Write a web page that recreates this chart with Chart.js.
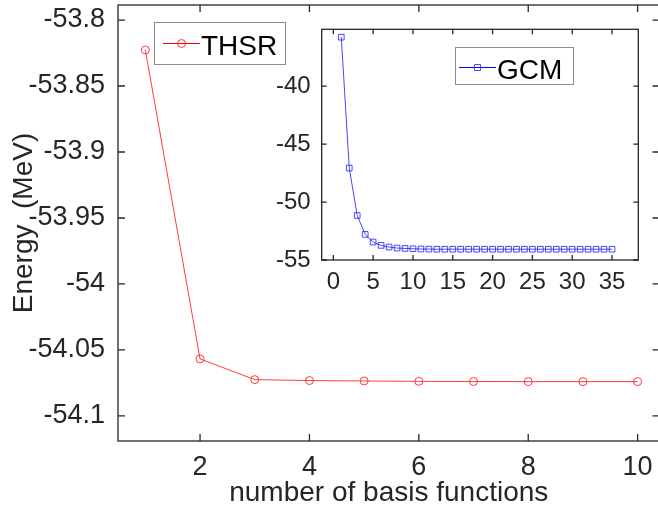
<!DOCTYPE html>
<html><head><meta charset="utf-8">
<script src="https://cdn.jsdelivr.net/npm/chart.js@4/dist/chart.umd.min.js"></script>
<style>
html,body{margin:0;padding:0;background:#fff;overflow:hidden;width:658px;height:509px;}
#main{position:absolute;left:0;top:0;}
#inset{position:absolute;left:270px;top:20px;}
</style></head><body>
<canvas id="main" width="662" height="509" style="width:662px;height:509px"></canvas>
<canvas id="inset" width="370" height="290" style="width:370px;height:290px"></canvas>
<script>
// ---- data ----
const thsrBasis = [1, 2, 3, 4, 5, 6, 7, 8, 9, 10];
const thsrEnergy = [-53.8227, -54.0568, -54.0725, -54.0732, -54.0735, -54.0738, -54.0739, -54.074, -54.074, -54.074];
const gcmBasis = [1, 2, 3, 4, 5, 6, 7, 8, 9, 10, 11, 12, 13, 14, 15, 16, 17, 18, 19, 20, 21, 22, 23, 24, 25, 26, 27, 28, 29, 30, 31, 32, 33, 34, 35];
const gcmEnergy = [-35.78, -47.07, -51.16, -52.79, -53.45, -53.74, -53.88, -53.97, -54.00, -54.03,
  -54.05, -54.06, -54.07, -54.07, -54.07, -54.07, -54.07, -54.07, -54.07, -54.07,
  -54.07, -54.07, -54.07, -54.07, -54.07, -54.07, -54.07, -54.07, -54.07, -54.07,
  -54.07, -54.07, -54.07, -54.07, -54.07];
const mainXTicks = [2, 4, 6, 8, 10];
const mainYTicks = [-54.1, -54.05, -54, -53.95, -53.9, -53.85, -53.8];
const insetXTicks = [0, 5, 10, 15, 20, 25, 30, 35];
const insetYTicks = [-55, -50, -45, -40];

// ---- styling ----
const FONT = '"Liberation Sans", Arial, Helvetica, sans-serif';
const AX = '#262626';

const framePlugin = {
  id: 'frame',
  afterDraw(chart, args, o) {
    const {ctx, chartArea: a, scales: {x, y}} = chart;
    ctx.save();
    ctx.strokeStyle = AX;
    ctx.lineWidth = o.lineWidth;
    ctx.beginPath();
    for (const t of x.ticks) {
      const p = x.getPixelForValue(t.value);
      ctx.moveTo(p, a.bottom); ctx.lineTo(p, a.bottom - o.tick);
      ctx.moveTo(p, a.top); ctx.lineTo(p, a.top + o.tick);
    }
    for (const t of y.ticks) {
      const p = y.getPixelForValue(t.value);
      ctx.moveTo(a.left, p); ctx.lineTo(a.left + o.tick, p);
      ctx.moveTo(a.right, p); ctx.lineTo(a.right - o.tick, p);
    }
    ctx.stroke();
    ctx.strokeRect(a.left, a.top, a.right - a.left, a.bottom - a.top);

    // legend
    const L = o.legend;
    const ds = chart.data.datasets[0];
    ctx.fillStyle = '#fff';
    ctx.fillRect(L.x, L.y, L.w, L.h);
    ctx.strokeStyle = L.border;
    ctx.lineWidth = 1;
    ctx.strokeRect(L.x + 0.5, L.y + 0.5, L.w, L.h);
    ctx.strokeStyle = L.color;
    ctx.beginPath();
    ctx.moveTo(L.x0, L.ly); ctx.lineTo(L.x1, L.ly);
    ctx.stroke();
    const mx = (L.x0 + L.x1) / 2;
    ctx.strokeStyle = ds.pointBorderColor;
    ctx.fillStyle = '#fff';
    ctx.beginPath();
    if (L.marker === 'circle') {
      ctx.arc(mx, L.ly, 4, 0, Math.PI * 2);
    } else {
      ctx.rect(mx - 3, L.ly - 3, 6, 6);
    }
    ctx.stroke();
    ctx.fillStyle = '#000';
    ctx.font = L.fontSize + 'px ' + FONT;
    ctx.textBaseline = 'alphabetic';
    ctx.textAlign = 'left';
    ctx.fillText(ds.label, L.tx, L.ty);
    ctx.restore();
  }
};

function fixedTicks(arr) {
  return s => { s.ticks = arr.map(v => ({value: v})); };
}
function fitSize(prop, val) {
  return s => {
    s[prop] = val;
    s.paddingTop = 0; s.paddingBottom = 0; s.paddingLeft = 0; s.paddingRight = 0;
  };
}

new Chart(document.getElementById('main'), {
  type: 'line',
  data: {
    datasets: [{
      label: 'THSR',
      data: thsrBasis.map((b, i) => ({x: b, y: thsrEnergy[i]})),
      borderColor: 'rgba(255,40,40,0.9)',
      borderWidth: 1,
      pointStyle: 'circle',
      pointRadius: 4,
      pointBorderWidth: 1,
      pointBorderColor: 'rgba(255,40,40,0.9)',
      pointBackgroundColor: 'rgba(0,0,0,0)',
      tension: 0,
      fill: false
    }]
  },
  options: {
    responsive: false,
    animation: false,
    devicePixelRatio: 1,
    layout: {autoPadding: false, padding: {left: 0, top: 5, right: 2.5, bottom: 0}},
    plugins: {
      legend: {display: false},
      tooltip: {enabled: false},
      frame: {
        lineWidth: 1.3, tick: 7,
        legend: {x: 154, y: 22, w: 131, h: 42, border: '#8c8c8c', color: '#ff0000',
                 x0: 163, x1: 200, ly: 43.5, marker: 'circle', tx: 201, ty: 55, fontSize: 28}
      }
    },
    scales: {
      x: {
        type: 'linear', min: 0.5, max: 10.4,
        afterBuildTicks: fixedTicks(mainXTicks),
        afterFit: fitSize('height', 68),
        grid: {display: false}, border: {display: false},
        ticks: {font: {family: FONT, size: 27}, color: AX, padding: 2, maxRotation: 0, autoSkip: false},
        title: {display: true, text: 'number of basis functions', color: AX,
                font: {family: FONT, size: 28, lineHeight: 1.1}, padding: {top: 0, bottom: 0}}
      },
      y: {
        type: 'linear', min: -54.119, max: -53.7886,
        afterBuildTicks: fixedTicks(mainYTicks),
        afterFit: fitSize('width', 118),
        grid: {display: false}, border: {display: false},
        ticks: {font: {family: FONT, size: 27}, color: AX, padding: 5, autoSkip: false,
                callback: v => String(v)},
        title: {display: true, text: 'Energy  (MeV)', color: AX,
                font: {family: FONT, size: 28}, padding: {top: 7.5, bottom: 0}}
      }
    }
  },
  plugins: [framePlugin]
});

new Chart(document.getElementById('inset'), {
  type: 'line',
  data: {
    datasets: [{
      label: 'GCM',
      data: gcmBasis.map((b, i) => ({x: b, y: gcmEnergy[i]})),
      borderColor: 'rgba(40,40,255,0.85)',
      borderWidth: 1,
      pointStyle: 'rect',
      pointRadius: 4,
      pointBorderWidth: 1,
      pointBorderColor: 'rgba(40,40,255,0.85)',
      pointBackgroundColor: 'rgba(0,0,0,0)',
      tension: 0,
      fill: false
    }]
  },
  options: {
    responsive: false,
    animation: false,
    devicePixelRatio: 1,
    layout: {autoPadding: false, padding: {left: 0, top: 9.3, right: 1.7, bottom: 0}},
    plugins: {
      legend: {display: false},
      tooltip: {enabled: false},
      frame: {
        lineWidth: 1.3, tick: 5,
        legend: {x: 185, y: 27, w: 118, h: 37, border: '#8c8c8c', color: '#0000ff',
                 x0: 189, x1: 226, ly: 47.5, marker: 'rect', tx: 227, ty: 58.5, fontSize: 28}
      }
    },
    scales: {
      x: {
        type: 'linear', min: -1.46, max: 38.3,
        afterBuildTicks: fixedTicks(insetXTicks),
        afterFit: fitSize('height', 50),
        grid: {display: false}, border: {display: false},
        ticks: {font: {family: FONT, size: 24}, color: AX, padding: 0, maxRotation: 0, autoSkip: false}
      },
      y: {
        type: 'linear', min: -55, max: -35.1,
        afterBuildTicks: fixedTicks(insetYTicks),
        afterFit: fitSize('width', 51.7),
        grid: {display: false}, border: {display: false},
        ticks: {font: {family: FONT, size: 24}, color: AX, padding: 3, autoSkip: false}
      }
    }
  },
  plugins: [framePlugin]
});
</script>
</body></html>
